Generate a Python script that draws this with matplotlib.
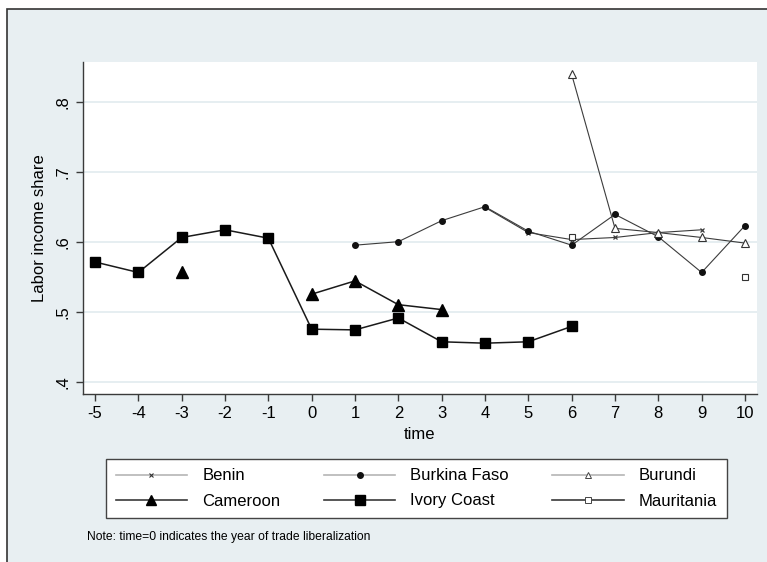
import numpy as np
import matplotlib.pyplot as plt
from matplotlib.lines import Line2D
from matplotlib.patches import Rectangle

plt.rcParams['font.family'] = ['Liberation Sans', 'DejaVu Sans']
plt.rcParams['axes.unicode_minus'] = False

time = np.arange(-5, 11)
nan = np.nan

# labor income share by country, NaN where no observation
benin        = [nan, nan, nan, nan, nan, nan, nan, nan, nan, 0.649, 0.613, 0.603, 0.606, 0.613, 0.617, nan]
burkina_faso = [nan, nan, nan, nan, nan, nan, 0.595, 0.600, 0.630, 0.650, 0.615, 0.595, 0.639, 0.607, 0.556, 0.623]
burundi      = [nan, nan, nan, nan, nan, nan, nan, nan, nan, nan, nan, 0.839, 0.619, 0.613, 0.606, 0.598]
cameroon     = [nan, nan, 0.556, nan, nan, 0.525, 0.544, 0.510, 0.503, nan, nan, nan, nan, nan, nan, nan]
ivory_coast  = [0.571, 0.556, 0.606, 0.617, 0.605, 0.475, 0.474, 0.491, 0.457, 0.455, 0.457, 0.479, nan, nan, nan, nan]
mauritania   = [nan, nan, nan, nan, nan, nan, nan, nan, nan, nan, nan, 0.606, nan, nan, nan, 0.549]

yticks = [0.4, 0.5, 0.6, 0.7, 0.8]
ytick_labels = ['.4', '.5', '.6', '.7', '.8']

bg = '#e8eff2'
W, H = 767, 562
fig = plt.figure(figsize=(W / 100, H / 100), dpi=100, facecolor='white')

# outer graph region with frame on left/top
fig.patches.append(Rectangle((7 / W, -0.1), 1.2, 1 - 9 / H + 0.1, transform=fig.transFigure,
                             facecolor=bg, edgecolor='#333333', linewidth=1.2, zorder=-10))

ax = fig.add_axes([83 / W, 1 - 394 / H, (757 - 83) / W, (394 - 62) / H])
ax.set_facecolor('white')
ax.set_xlim(-5.277, 10.277)
ax.set_ylim(0.3824, 0.8567)

for s in ['top', 'right']:
    ax.spines[s].set_visible(False)
for s in ['left', 'bottom']:
    ax.spines[s].set_color('#3a3a3a')
    ax.spines[s].set_linewidth(1.0)

ax.set_yticks(yticks)
ax.set_yticklabels(ytick_labels, rotation=90, va='center')
ax.set_xticks(time)
ax.tick_params(axis='both', direction='out', length=5, width=1, color='#3a3a3a',
               labelsize=12, pad=4)
ax.grid(axis='y', color='#e4edf0', linewidth=1.3)
ax.set_axisbelow(True)

ax.set_xlabel('time', fontsize=12, labelpad=4)
ax.set_ylabel('Labor income share', fontsize=12, labelpad=6)

thin = dict(color='#3c3c3c', linewidth=0.8)
thick = dict(color='#1a1a1a', linewidth=1.1)

ax.plot(time, benin, marker='x', markersize=3.5, markeredgewidth=0.9, **thin)
ax.plot(time, burkina_faso, marker='o', markersize=4, markerfacecolor='#111111',
        markeredgecolor='#111111', **thin)
ax.plot(time, burundi, marker='^', markersize=5.5, markerfacecolor='white',
        markeredgecolor='#333333', markeredgewidth=0.8, **thin)
ax.plot(time, cameroon, marker='^', markersize=8, markerfacecolor='black',
        markeredgecolor='black', **thick)
ax.plot(time, ivory_coast, marker='s', markersize=7.3, markerfacecolor='black',
        markeredgecolor='black', **thick)
ax.plot(time, mauritania, marker='s', markersize=5, markerfacecolor='white',
        markeredgecolor='#333333', markeredgewidth=0.8, **thick)

# legend keys: the thin series show up light grey in the key
key = {
    'Benin': Line2D([], [], color='#b5b5b5', lw=1.2, marker='x', ms=3, mec='#333333', mew=0.8),
    'Burkina Faso': Line2D([], [], color='#b5b5b5', lw=1.2, marker='o', ms=4, mfc='#111111', mec='#111111'),
    'Burundi': Line2D([], [], color='#b5b5b5', lw=1.2, marker='^', ms=4, mfc='white', mec='#444444', mew=0.7),
    'Cameroon': Line2D([], [], color='#3a3a3a', lw=1.2, marker='^', ms=7, mfc='black', mec='black'),
    'Ivory Coast': Line2D([], [], color='#3a3a3a', lw=1.2, marker='s', ms=6.5, mfc='black', mec='black'),
    'Mauritania': Line2D([], [], color='#3a3a3a', lw=1.2, marker='s', ms=4, mfc='white', mec='#444444', mew=0.7),
}
# matplotlib fills legend columns first, so order for row-wise reading
order = ['Benin', 'Cameroon', 'Burkina Faso', 'Ivory Coast', 'Burundi', 'Mauritania']
leg = fig.legend([key[k] for k in order], order, ncol=3, loc='center', mode='expand',
                 bbox_to_anchor=(98 / W, 1 - 520 / H, (735 - 98) / W, (520 - 457) / H),
                 fontsize=12, handlelength=4.3, handletextpad=0.9, labelspacing=0.6,
                 borderpad=0.55, fancybox=False, framealpha=1, edgecolor='#444444',
                 facecolor='white', columnspacing=1.0)
leg.get_frame().set_linewidth(1.0)

fig.text(87 / W, 1 - 537 / H, 'Note: time=0 indicates the year of trade liberalization',
         fontsize=8.7, va='center', ha='left')

fig.savefig('out.png', dpi=100, facecolor=fig.get_facecolor())
